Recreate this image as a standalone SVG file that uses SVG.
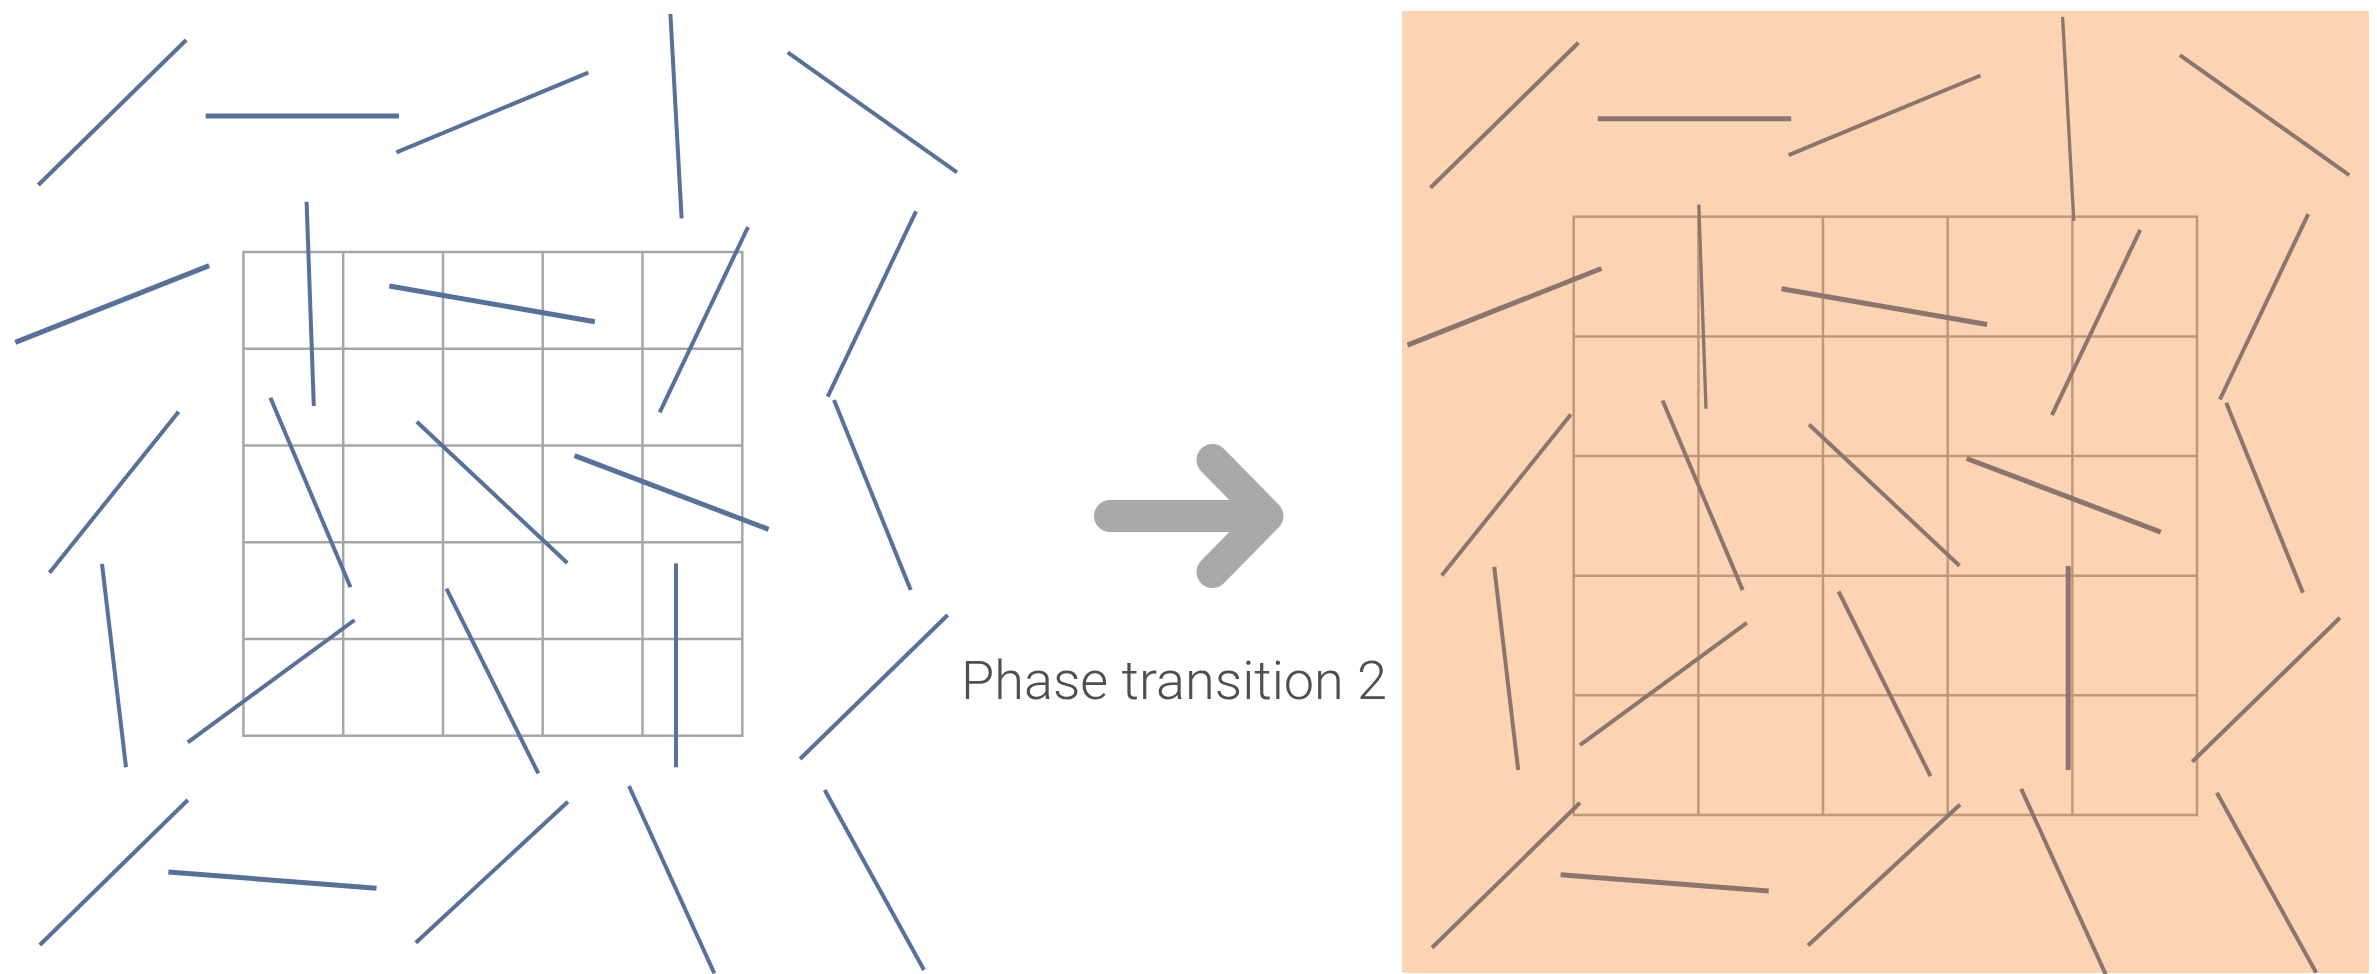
<svg xmlns="http://www.w3.org/2000/svg" width="2377" height="974" viewBox="0 0 2377 974">
<style>
.gl{fill:none;stroke:#a6a6a6;stroke-width:2.5}
.gr{fill:none;stroke:#c09878;stroke-width:2.5}
.sl line{stroke:#57719b;stroke-width:4;stroke-linecap:butt}
.sr line{stroke:#8a766e;stroke-width:4;stroke-linecap:butt}
.t{stroke-width:5 !important}
.n{stroke-width:3.3 !important}
.arrow{fill:none;stroke:#a7aaa9;stroke-width:32;stroke-linecap:round;stroke-linejoin:round}
.lbl{font-family:Roboto,"Liberation Sans",Arial,sans-serif;font-weight:300;font-size:53px;fill:#4f4f4f}
</style>
<rect width="2377" height="974" fill="#ffffff"/>
<g id="left-panel">
  <g id="left-grid" class="gl">
    <rect x="243.4" y="252" width="498.9" height="483.7"/>
    <path d="M343.2 252V735.7M443 252V735.7M542.7 252V735.7M642.5 252V735.7M243.4 348.7H742.3M243.4 445.5H742.3M243.4 542.2H742.3M243.4 639H742.3"/>
  </g>
  <g id="left-sticks" class="sl">
    <line x1="186.2" y1="40" x2="38.3" y2="185"/>
    <line class="t" x1="205.6" y1="116" x2="399" y2="116"/>
    <line x1="396.4" y1="152.3" x2="588.3" y2="72.7"/>
    <line x1="670.4" y1="14" x2="681.6" y2="218.3"/>
    <line x1="787.7" y1="52.3" x2="957" y2="172.3"/>
    <line x1="306.6" y1="201.7" x2="313.8" y2="406"/>
    <line class="t" x1="209.2" y1="265.7" x2="15.3" y2="342.3"/>
    <line class="t" x1="389.3" y1="286" x2="594.9" y2="321.7"/>
    <line x1="748" y1="227" x2="659.7" y2="412.3"/>
    <line x1="916" y1="211.3" x2="827.7" y2="396.7"/>
    <line x1="270.4" y1="397.7" x2="350.5" y2="587.3"/>
    <line x1="416.8" y1="421.7" x2="567.3" y2="563"/>
    <line class="t" x1="574.5" y1="455.7" x2="768.6" y2="529.3"/>
    <line x1="178.6" y1="411.7" x2="49.5" y2="572.7"/>
    <line x1="834" y1="400" x2="910.7" y2="590"/>
    <line x1="102" y1="564" x2="126" y2="767.3"/>
    <line x1="676" y1="563.3" x2="676" y2="767.3"/>
    <line x1="446.4" y1="588.7" x2="538.3" y2="773.3"/>
    <line x1="354.6" y1="620" x2="187.8" y2="742.3"/>
    <line x1="947.7" y1="615" x2="800" y2="759"/>
    <line x1="187.8" y1="800" x2="39.8" y2="945"/>
    <line class="t" x1="168.4" y1="872" x2="376.5" y2="888.3"/>
    <line x1="567.9" y1="801.7" x2="415.8" y2="942.7"/>
    <line x1="629" y1="786" x2="714.3" y2="973.3"/>
    <line x1="824.7" y1="790" x2="924" y2="970"/>
  </g>
</g>
<g id="transition">
  <path class="arrow" d="M1110 516H1266M1212.5 460L1267.5 516L1212.5 572"/>
  <text class="lbl" x="961" y="699" textLength="426" lengthAdjust="spacingAndGlyphs">Phase transition 2</text>
</g>
<g id="right-panel">
  <rect x="1402" y="11" width="967" height="962" fill="#fcd4b4"/>
  <g id="right-grid" class="gr">
    <rect x="1573.7" y="216.7" width="623.3" height="598.3"/>
    <path d="M1698.4 216.7V815M1823 216.7V815M1947.7 216.7V815M2072.4 216.7V815M1573.7 336.4H2197M1573.7 456H2197M1573.7 575.7H2197M1573.7 695.3H2197"/>
  </g>
  <g id="right-sticks" class="sr" transform="translate(1392.2 2.8)">
    <line x1="186.2" y1="40" x2="38.3" y2="185"/>
    <line class="t" x1="205.6" y1="116" x2="399" y2="116"/>
    <line x1="396.4" y1="152.3" x2="588.3" y2="72.7"/>
    <line class="n" x1="670.4" y1="14" x2="681.6" y2="218.3"/>
    <line x1="787.7" y1="52.3" x2="957" y2="172.3"/>
    <line class="n" x1="306.6" y1="201.7" x2="313.8" y2="406"/>
    <line class="t" x1="209.2" y1="265.7" x2="15.3" y2="342.3"/>
    <line class="t" x1="389.3" y1="286" x2="594.9" y2="321.7"/>
    <line x1="748" y1="227" x2="659.7" y2="412.3"/>
    <line x1="916" y1="211.3" x2="827.7" y2="396.7"/>
    <line x1="270.4" y1="397.7" x2="350.5" y2="587.3"/>
    <line x1="416.8" y1="421.7" x2="567.3" y2="563"/>
    <line class="t" x1="574.5" y1="455.7" x2="768.6" y2="529.3"/>
    <line x1="178.6" y1="411.7" x2="49.5" y2="572.7"/>
    <line x1="834" y1="400" x2="910.7" y2="590"/>
    <line x1="102" y1="564" x2="126" y2="767.3"/>
    <line class="t" x1="676" y1="563.3" x2="676" y2="767.3"/>
    <line x1="446.4" y1="588.7" x2="538.3" y2="773.3"/>
    <line x1="354.6" y1="620" x2="187.8" y2="742.3"/>
    <line x1="947.7" y1="615" x2="800" y2="759"/>
    <line x1="187.8" y1="800" x2="39.8" y2="945"/>
    <line class="t" x1="168.4" y1="872" x2="376.5" y2="888.3"/>
    <line x1="567.9" y1="801.7" x2="415.8" y2="942.7"/>
    <line x1="629" y1="786" x2="714.3" y2="973.3"/>
    <line x1="824.7" y1="790" x2="924" y2="970"/>
  </g>
</g>
</svg>
